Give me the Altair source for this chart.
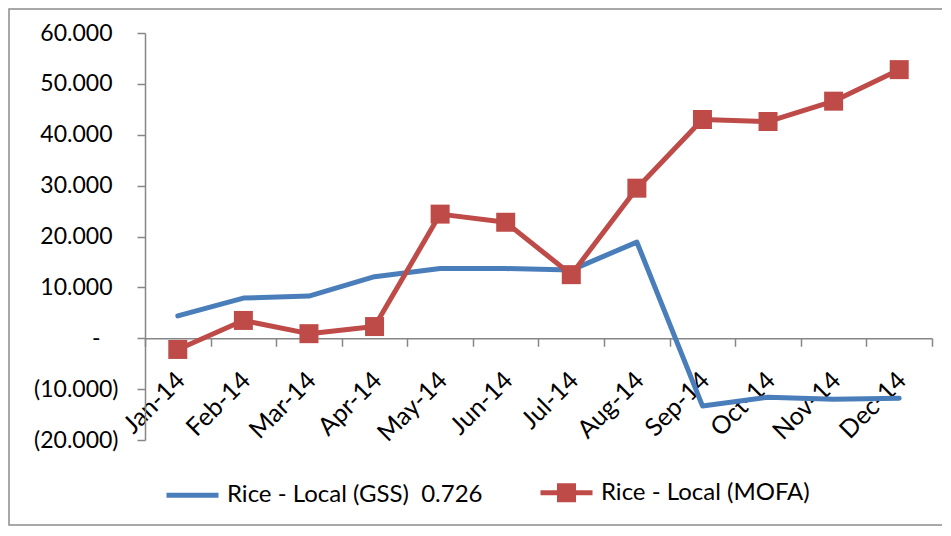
import altair as alt
import pandas as pd

# ---- data ----
months = ["Jan-14", "Feb-14", "Mar-14", "Apr-14", "May-14", "Jun-14",
          "Jul-14", "Aug-14", "Sep-14", "Oct-14", "Nov-14", "Dec-14"]
gss = [4.4, 7.9, 8.3, 12.1, 13.7, 13.7, 13.4, 18.9, -13.3, -11.6, -12.0, -11.8]
mofa = [-2.2, 3.5, 0.9, 2.3, 24.4, 22.8, 12.5, 29.5, 43.0, 42.6, 46.6, 52.8]
series = ["Rice - Local (GSS) \u00a00.726", "Rice - Local (MOFA)"]
colors = ["#4A7EBB", "#BE4B48"]
y_ticks = [-20, -10, 0, 10, 20, 30, 40, 50, 60]

# ---- layout ----
W, H = 787, 407
YMIN, YMAX = -20, 60
PL, PT, PR, PB = 137, 25, 10, 86
FONT = "Lato"
AXIS_GRAY = "#868686"

df = pd.DataFrame({
    "month": months * 2,
    "value": gss + mofa,
    "series": [series[0]] * len(months) + [series[1]] * len(months),
})

zero_offset = -H * (0 - YMIN) / (YMAX - YMIN)

x_enc = alt.X(
    "month:N", sort=months, title=None,
    scale=alt.Scale(type="band", paddingInner=0, paddingOuter=0),
    axis=alt.Axis(
        labelAngle=-45, labelAlign="right", labelBaseline="top",
        labelOffset=-6, labelPadding=21, tickBand="extent", tickSize=8,
        offset=zero_offset, labelFont=FONT, labelFontSize=25,
        labelColor="black", domainColor=AXIS_GRAY, tickColor=AXIS_GRAY,
        domainWidth=1.5, tickWidth=1.5, grid=False, labelOverlap=False,
    ),
)

label_expr = (
    "datum.value == 0 ? '-' : (datum.value < 0 ? '(' + format(-datum.value, ',.3f') + ')'"
    " : format(datum.value, ',.3f'))"
)

y_enc = alt.Y(
    "value:Q", title=None,
    scale=alt.Scale(domain=[YMIN, YMAX], nice=False, zero=False),
    axis=alt.Axis(
        values=y_ticks, labelExpr=label_expr, tickSize=8,
        labelPadding={"condition": [
            {"test": "datum.value == 0", "value": 37},
            {"test": "datum.value > 0", "value": 25},
        ], "value": 19},
        labelFont=FONT, labelFontSize=23, labelColor="black",
        domainColor=AXIS_GRAY, tickColor=AXIS_GRAY, domainWidth=1.5,
        tickWidth=1.5, grid=False,
    ),
)

# legend symbols: plain stroke for GSS, stroke + solid square (concentric stroked squares) for MOFA
PATH_LINE = "M-1,0H1"
PATH_SQ = "M-1,0H1M-0.27,-0.27H0.27V0.27H-0.27ZM-0.08,-0.08H0.08V0.08H-0.08Z"
symbol_expr = "datum.value === '%s' ? '%s' : '%s'" % (series[1], PATH_SQ, PATH_LINE)

color_enc = alt.Color(
    "series:N", scale=alt.Scale(domain=series, range=colors), title=None,
    legend=alt.Legend(
        orient="none", legendX=19, legendY=431, direction="horizontal",
        symbolSize=2704, symbolStrokeWidth=5, labelFont=FONT,
        labelFontSize=24, labelColor="black", labelOffset=6,
        columnPadding=47, labelLimit=400,
        symbolType=alt.ExprRef(expr=symbol_expr),
    ),
)

lines = alt.Chart(df).mark_line(strokeWidth=5, strokeCap="round", strokeJoin="round").encode(
    x=x_enc, y=y_enc, color=color_enc, order=alt.Order("series:N")
)

points = alt.Chart(df).transform_filter(
    alt.datum.series == series[1]
).mark_point(shape="square", filled=True, size=361, opacity=1).encode(
    x=x_enc, y=y_enc,
    color=alt.Color("series:N", scale=alt.Scale(domain=series, range=colors), legend=None),
)

frame = alt.Chart(pd.DataFrame({"a": [0]})).mark_rect(
    fill=None, stroke="#8c8c8c", strokeWidth=1.5
).encode(
    x=alt.value(-PL + 1), x2=alt.value(W + PR + 20),
    y=alt.value(-PT + 1), y2=alt.value(H + PB - 1),
)

chart = alt.layer(frame, lines, points).properties(
    width=W, height=H,
    padding={"left": PL, "top": PT, "right": PR, "bottom": PB},
    autosize=alt.AutoSizeParams(type="none"),
).configure_view(stroke=None)

chart.save("out.html", embed_options={"renderer": "svg", "actions": False})
